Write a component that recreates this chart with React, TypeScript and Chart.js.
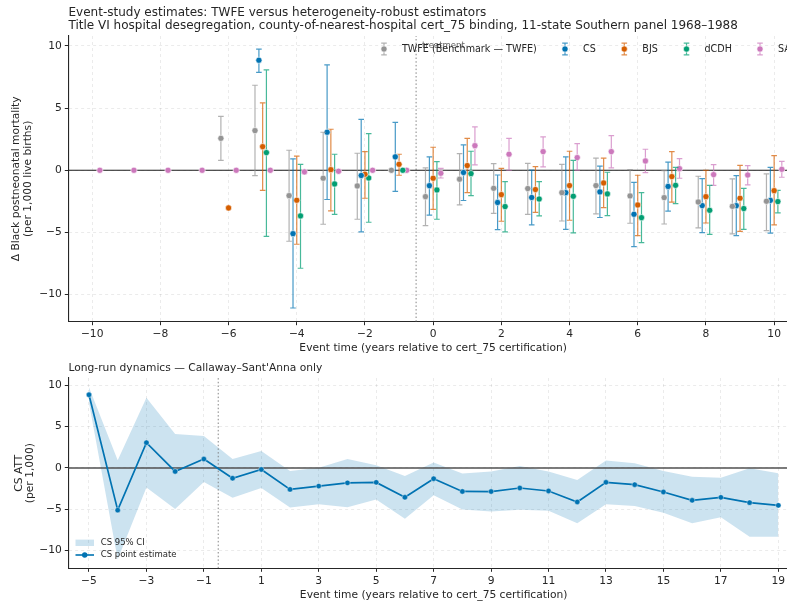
import React, { useEffect, useRef } from "react";
import { Chart, registerables } from "chart.js";

Chart.register(...registerables);

const FONT = "'DejaVu Sans', 'Liberation Sans', sans-serif";
const TXT = "#262626";

// ---------------- Top panel data ----------------
const topXTicks = [-10, -8, -6, -4, -2, 0, 2, 4, 6, 8, 10];
const topYTicks = [-10, -5, 0, 5, 10];

const twfeEvents = [-6, -5, -4, -3, -2, -1, 0, 1, 2, 3, 4, 5, 6, 7, 8, 9, 10];
const twfeEst = [2.57, 3.19, -2.04, -0.64, -1.26, 0, -2.12, -0.72, -1.45, -1.47, -1.8, -1.23, -2.06, -2.2, -2.55, -2.9, -2.49];
const twfeLo = [0.8, -0.43, -5.71, -4.34, -3.94, null, -4.45, -2.79, -3.46, -3.54, -4.08, -3.51, -4.26, -4.32, -4.64, -5.12, -4.85];
const twfeHi = [4.34, 6.84, 1.61, 3.06, 1.37, null, 0.19, 1.34, 0.54, 0.56, 0.48, 0.97, 0.05, -0.03, -0.48, -0.7, -0.29];

// CS: event time -5..19 (top panel shows -5..10, bottom panel all)
const csEvents = [-5, -4, -3, -2, -1, 0, 1, 2, 3, 4, 5, 6, 7, 8, 9, 10, 11, 12, 13, 14, 15, 16, 17, 18, 19];
const csEst = [8.85, -5.1, 3.06, -0.42, 1.08, -1.24, -0.18, -2.59, -2.19, -1.8, -1.74, -3.54, -1.3, -2.84, -2.85, -2.42, -2.78, -4.11, -1.73, -2.02, -2.9, -3.91, -3.55, -4.19, -4.52];
const csLo = [7.88, -11.08, -2.35, -4.96, -1.7, -3.6, -2.43, -4.77, -4.4, -4.75, -3.8, -6.14, -3.29, -5.02, -5.26, -5.06, -5.16, -6.69, -4.4, -4.6, -5.4, -6.69, -5.97, -8.31, -8.31];
const csHi = [9.75, 0.92, 8.48, 4.1, 3.86, 1.08, 2.05, -0.38, 0.02, 1.08, 0.34, -0.97, 0.65, -0.67, -0.43, 0.24, -0.44, -1.45, 0.89, 0.56, -0.36, -1.05, -1.17, -0.04, -0.65];

const bjsEvents = [-6, -5, -4, -3, -2, -1, 0, 1, 2, 3, 4, 5, 6, 7, 8, 9, 10];
const bjsEst = [-3.03, 1.9, -2.41, 0.05, -0.32, 0.48, -0.64, 0.38, -1.96, -1.55, -1.23, -1.02, -2.79, -0.51, -2.12, -2.25, -1.64];
const bjsLo = [null, -1.61, -5.95, -3.27, -2.25, -0.4, -3.14, -1.8, -4.1, -3.38, -4.02, -3.0, -5.25, -2.57, -4.24, -4.91, -4.4];
const bjsHi = [null, 5.42, 1.13, 3.3, 1.5, 1.29, 1.85, 2.57, 0.16, 0.29, 1.53, 0.97, -0.4, 1.5, 0.0, 0.4, 1.18];

const dcdhEvents = [-5, -4, -3, -2, -1, 0, 1, 2, 3, 4, 5, 6, 7, 8, 9, 10];
const dcdhEst = [1.42, -3.67, -1.1, -0.62, 0, -1.58, -0.27, -2.92, -2.31, -2.09, -1.9, -3.81, -1.21, -3.22, -3.08, -2.52];
const dcdhLo = [-5.31, -7.88, -3.54, -4.18, null, -3.94, -2.04, -4.96, -3.67, -5.04, -3.65, -5.82, -2.68, -5.15, -4.75, -3.43];
const dcdhHi = [8.07, 0.48, 1.29, 2.95, null, 0.7, 1.53, -0.91, -0.91, 0.8, -0.16, -1.8, 0.24, -1.21, -1.45, -1.61];

const saEvents = [-10, -9, -8, -7, -6, -5, -4, -3, -2, -1, 0, 1, 2, 3, 4, 5, 6, 7, 8, 9, 10];
const saEst = [0, 0, 0, 0, 0, 0, -0.13, -0.08, 0, 0, -0.24, 1.98, 1.29, 1.5, 1.02, 1.5, 0.75, 0.13, -0.35, -0.38, 0.08];
const saLo = [null, null, null, null, null, null, -0.22, -0.16, null, null, -0.62, 0.43, 0.0, 0.27, 0.0, 0.19, -0.19, -0.64, -1.21, -1.18, -0.56];
const saHi = [null, null, null, null, null, null, -0.04, 0.02, null, null, 0.16, 3.49, 2.57, 2.68, 2.14, 2.79, 1.69, 0.94, 0.46, 0.38, 0.72];

const seriesNames = ["TWFE (Benchmark — TWFE)", "CS", "BJS", "dCDH", "SA"];
const seriesColors = ["#949494", "#0173b2", "#d55e00", "#029e73", "#cc78bc"];
const seriesOffsets = [-0.225, -0.11, 0, 0.11, 0.225];

// ---------------- Bottom panel ticks ----------------
const botXTicks = [-5, -3, -1, 1, 3, 5, 7, 9, 11, 13, 15, 17, 19];
const botYTicks = [-10, -5, 0, 5, 10];

const TITLE1 = "Event-study estimates: TWFE versus heterogeneity-robust estimators";
const TITLE2 = "Title VI hospital desegregation, county-of-nearest-hospital cert_75 binding, 11-state Southern panel 1968–1988";
const TITLE_BOT = "Long-run dynamics — Callaway–Sant'Anna only";
const XLABEL = "Event time (years relative to cert_75 certification)";

const fmt = (v: number) => (v < 0 ? "\u2212" + Math.abs(v) : String(v));

const CANVAS_W = 810;
const TOP_H = 356;
const BOT_H = 249;
const FS = 10.7;
const TITLE_FS = 12;
const LEG_FS = 9.6;

const errorBarPlugin = {
  id: "errbars",
  beforeDatasetDraw(chart: any, args: any) {
    const ds = chart.data.datasets[args.index];
    if (!ds.errLo) return;
    const xs = chart.scales.x;
    const ys = chart.scales.y;
    const ctx = chart.ctx;
    ctx.save();
    ctx.strokeStyle = ds.errColor;
    ctx.globalAlpha = 0.72;
    ctx.lineWidth = 1.2;
    ds.data.forEach((p: any, i: number) => {
      const lo = ds.errLo[i];
      const hi = ds.errHi[i];
      if (lo == null || hi == null) return;
      const x = xs.getPixelForValue(p.x);
      const y1 = ys.getPixelForValue(lo);
      const y2 = ys.getPixelForValue(hi);
      ctx.beginPath();
      ctx.moveTo(x, y1);
      ctx.lineTo(x, y2);
      ctx.moveTo(x - 2.8, y1);
      ctx.lineTo(x + 2.8, y1);
      ctx.moveTo(x - 2.8, y2);
      ctx.lineTo(x + 2.8, y2);
      ctx.stroke();
    });
    ctx.restore();
  },
};

function axisCommon(min: number, max: number, ticks: number[], pad: number) {
  return {
    type: "linear" as const,
    min,
    max,
    afterBuildTicks: (s: any) => {
      s.ticks = ticks.map((v) => ({ value: v }));
    },
    ticks: {
      autoSkip: false,
      maxRotation: 0,
      padding: pad,
      font: { family: FONT, size: FS },
      color: TXT,
      callback: (v: any) => fmt(Number(v)),
    },
    grid: {
      color: "rgba(0,0,0,0.10)",
      lineWidth: 0.8,
      drawTicks: true,
      tickLength: 3.5,
      tickColor: TXT,
      tickWidth: 1,
    },
    border: { display: true, color: TXT, width: 1.1, dash: [3, 3] },
  };
}

function TopChart() {
  const ref = useRef<HTMLCanvasElement>(null);
  useEffect(() => {
    const canvas = ref.current!;
    const groups = [
      [twfeEvents, twfeEst, twfeLo, twfeHi],
      [csEvents.slice(0, 16), csEst.slice(0, 16), csLo.slice(0, 16), csHi.slice(0, 16)],
      [bjsEvents, bjsEst, bjsLo, bjsHi],
      [dcdhEvents, dcdhEst, dcdhLo, dcdhHi],
      [saEvents, saEst, saLo, saHi],
    ] as any[];
    const scatterSets = groups.map((g, k) => ({
      type: "scatter" as const,
      label: seriesNames[k],
      data: (g[0] as number[]).map((e, i) => ({ x: e + seriesOffsets[k], y: g[1][i] })),
      errLo: g[2],
      errHi: g[3],
      errColor: seriesColors[k],
      backgroundColor: seriesColors[k],
      borderColor: "#ffffff",
      borderWidth: 0.6,
      pointRadius: 3.1,
      order: 0,
    }));
    const decor = {
      id: "topDecor",
      afterDatasetsDraw(chart: any) {
        const ctx = chart.ctx;
        const xs = chart.scales.x;
        ctx.save();
        ctx.fillStyle = TXT;
        ctx.textBaseline = "middle";
        ctx.textAlign = "left";
        ctx.font = `${TITLE_FS}px ${FONT}`;
        ctx.fillText(TITLE1, 68.5, 12.5);
        ctx.fillText(TITLE2, 68.5, 25.8);
        // treatment annotation
        ctx.font = `8.5px ${FONT}`;
        ctx.fillStyle = "#666666";
        ctx.fillText("treatment", xs.getPixelForValue(-0.5) + 6, 45.5);
        // legend
        const hx = [384, 565, 624.3, 686.5, 760];
        const ly = 49;
        ctx.font = `${LEG_FS}px ${FONT}`;
        seriesNames.forEach((n, k) => {
          const x = hx[k];
          ctx.save();
          ctx.globalAlpha = 0.72;
          ctx.strokeStyle = seriesColors[k];
          ctx.lineWidth = 1.2;
          ctx.beginPath();
          ctx.moveTo(x, ly - 5.9);
          ctx.lineTo(x, ly + 5.9);
          ctx.moveTo(x - 2.8, ly - 5.9);
          ctx.lineTo(x + 2.8, ly - 5.9);
          ctx.moveTo(x - 2.8, ly + 5.9);
          ctx.lineTo(x + 2.8, ly + 5.9);
          ctx.stroke();
          ctx.restore();
          ctx.beginPath();
          ctx.arc(x, ly, 3.1, 0, Math.PI * 2);
          ctx.fillStyle = seriesColors[k];
          ctx.fill();
          ctx.lineWidth = 0.6;
          ctx.strokeStyle = "#fff";
          ctx.stroke();
          ctx.fillStyle = TXT;
          ctx.fillText(n, x + 18, ly);
        });
        ctx.restore();
      },
    };
    const chart = new Chart(canvas, {
      type: "scatter",
      data: {
        datasets: [
          {
            type: "line" as const,
            data: [
              { x: -10.7, y: 0 },
              { x: 10.7, y: 0 },
            ],
            showLine: true,
            borderColor: "#1a1a1a",
            borderWidth: 1.1,
            pointRadius: 0,
            order: 5,
          },
          {
            type: "line" as const,
            data: [
              { x: -0.5, y: -12.18 },
              { x: -0.5, y: 10.8 },
            ],
            showLine: true,
            borderColor: "#777777",
            borderWidth: 0.9,
            borderDash: [1.5, 2.2],
            pointRadius: 0,
            order: 5,
          },
          ...scatterSets,
        ] as any,
      },
      options: {
        responsive: false,
        animation: false,
        devicePixelRatio: 1,
        layout: { padding: { top: 36, right: 12, left: 0, bottom: 0 } },
        plugins: { legend: { display: false }, tooltip: { enabled: false }, title: { display: false } },
        scales: {
          x: {
            ...axisCommon(-10.7, 10.7, topXTicks, 3),
            afterFit: (s: any) => {
              s.height = TOP_H - 321.7;
            },
            title: {
              display: true,
              text: XLABEL,
              font: { family: FONT, size: FS },
              color: TXT,
              padding: { top: 0, bottom: 1.4 },
            },
          } as any,
          y: {
            ...axisCommon(-12.18, 10.8, topYTicks, 3),
            afterFit: (s: any) => {
              s.width = 68.3;
            },
            title: {
              display: true,
              text: ["Δ Black postneonatal mortality", "(per 1,000 live births)"],
              font: { family: FONT, size: FS, lineHeight: 1.12 },
              color: TXT,
              padding: { top: 10, bottom: 0 },
            },
          } as any,
        },
      },
      plugins: [errorBarPlugin, decor],
    });
    return () => chart.destroy();
  }, []);
  return (
    <canvas
      ref={ref}
      width={CANVAS_W}
      height={TOP_H}
      style={{ position: "absolute", left: 0, top: 0, width: CANVAS_W, height: TOP_H, display: "block" }}
    />
  );
}

function BottomChart() {
  const ref = useRef<HTMLCanvasElement>(null);
  useEffect(() => {
    const canvas = ref.current!;
    const blue = "#0173b2";
    const band = "rgba(1,115,178,0.2)";
    const decor = {
      id: "botDecor",
      afterDatasetsDraw(chart: any) {
        const ctx = chart.ctx;
        ctx.save();
        ctx.fillStyle = TXT;
        ctx.textBaseline = "middle";
        ctx.textAlign = "left";
        ctx.font = `${FS}px ${FONT}`;
        ctx.fillText(TITLE_BOT, 68.5, 12.4);
        // legend
        ctx.fillStyle = band;
        ctx.fillRect(75.5, 183.6, 18.5, 6.4);
        ctx.font = `8.5px ${FONT}`;
        ctx.fillStyle = TXT;
        ctx.fillText("CS 95% CI", 100.7, 186.8);
        ctx.strokeStyle = blue;
        ctx.lineWidth = 1.6;
        ctx.beginPath();
        ctx.moveTo(75.5, 199);
        ctx.lineTo(94, 199);
        ctx.stroke();
        ctx.beginPath();
        ctx.arc(84.7, 199, 2.7, 0, Math.PI * 2);
        ctx.fillStyle = blue;
        ctx.fill();
        ctx.fillStyle = TXT;
        ctx.fillText("CS point estimate", 100.7, 199);
        ctx.restore();
      },
    };
    const chart = new Chart(canvas, {
      type: "line",
      data: {
        datasets: [
          {
            data: csEvents.map((e, i) => ({ x: e, y: csHi[i] })),
            borderWidth: 0,
            pointRadius: 0,
            backgroundColor: band,
            borderColor: "rgba(0,0,0,0)",
            fill: "+1",
            order: 6,
          },
          {
            data: csEvents.map((e, i) => ({ x: e, y: csLo[i] })),
            borderWidth: 0,
            pointRadius: 0,
            borderColor: "rgba(0,0,0,0)",
            fill: false,
            order: 6,
          },
          {
            data: [
              { x: -5.72, y: 0 },
              { x: 19.72, y: 0 },
            ],
            borderColor: "#505050",
            borderWidth: 1.4,
            pointRadius: 0,
            fill: false,
            order: 4,
          },
          {
            data: [
              { x: -0.5, y: -12.13 },
              { x: -0.5, y: 10.88 },
            ],
            borderColor: "#777777",
            borderWidth: 0.9,
            borderDash: [1.5, 2.2],
            pointRadius: 0,
            fill: false,
            order: 4,
          },
          {
            data: csEvents.map((e, i) => ({ x: e, y: csEst[i] })),
            borderColor: blue,
            borderWidth: 1.7,
            pointRadius: 2.7,
            pointBackgroundColor: blue,
            pointBorderColor: "#ffffff",
            pointBorderWidth: 0.4,
            fill: false,
            order: 0,
          },
        ] as any,
      },
      options: {
        responsive: false,
        animation: false,
        devicePixelRatio: 1,
        layout: { padding: { top: 22, right: 11, left: 0, bottom: 0 } },
        plugins: { legend: { display: false }, tooltip: { enabled: false }, title: { display: false } },
        scales: {
          x: {
            ...axisCommon(-5.72, 19.72, botXTicks, 3.5),
            afterFit: (s: any) => {
              s.height = BOT_H - 212.3;
            },
            title: {
              display: true,
              text: XLABEL,
              font: { family: FONT, size: FS },
              color: TXT,
              padding: { top: 0, bottom: 2.9 },
            },
          } as any,
          y: {
            ...axisCommon(-12.13, 10.88, botYTicks, 3),
            afterFit: (s: any) => {
              s.width = 68.3;
            },
            title: {
              display: true,
              text: ["CS ATT", "(per 1,000)"],
              font: { family: FONT, size: FS, lineHeight: 1.05 },
              color: TXT,
              padding: { top: 13.5, bottom: 0 },
            },
          } as any,
        },
      },
      plugins: [decor],
    });
    return () => chart.destroy();
  }, []);
  return (
    <canvas
      ref={ref}
      width={CANVAS_W}
      height={BOT_H}
      style={{ position: "absolute", left: 0, top: TOP_H, width: CANVAS_W, height: BOT_H, display: "block" }}
    />
  );
}

export default function App() {
  return (
    <div
      style={{
        position: "fixed",
        left: 0,
        top: 0,
        width: 787,
        height: 605,
        overflow: "hidden",
        background: "#ffffff",
      }}
    >
      <TopChart />
      <BottomChart />
    </div>
  );
}
